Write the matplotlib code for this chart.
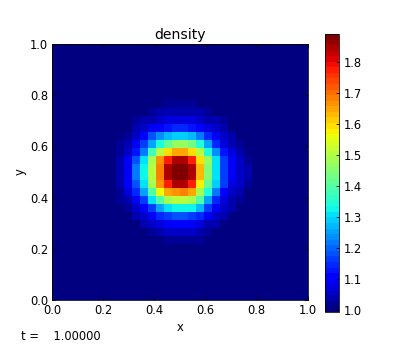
import numpy as np
import matplotlib
matplotlib.use("Agg")
import matplotlib.pyplot as plt

title = "density"
time_value = 1.0
n_cells = 32
background = 1.0
vmin = 0.994
vmax = 1.889
cbar_ticks = [1.0, 1.1, 1.2, 1.3, 1.4, 1.5, 1.6, 1.7, 1.8]

# central part of the grid, read by colour, top row first (rows 7-24, columns 7-25)
first_row = 7
first_col = 7
core = [
    [1.00, 1.00, 1.00, 1.00, 1.01, 1.01, 1.01, 1.02, 1.02, 1.02, 1.02, 1.01, 1.01, 1.01, 1.00, 1.00, 1.00, 1.00, 1.00],
    [1.00, 1.00, 1.00, 1.01, 1.01, 1.02, 1.03, 1.03, 1.04, 1.04, 1.03, 1.03, 1.02, 1.01, 1.01, 1.00, 1.00, 1.00, 1.00],
    [1.00, 1.00, 1.01, 1.02, 1.03, 1.04, 1.06, 1.07, 1.08, 1.08, 1.07, 1.06, 1.04, 1.03, 1.02, 1.01, 1.00, 1.00, 1.00],
    [1.00, 1.00, 1.01, 1.03, 1.06, 1.09, 1.11, 1.13, 1.14, 1.14, 1.13, 1.11, 1.08, 1.05, 1.03, 1.01, 1.01, 1.00, 1.00],
    [1.00, 1.01, 1.02, 1.05, 1.11, 1.18, 1.24, 1.28, 1.29, 1.29, 1.28, 1.22, 1.15, 1.09, 1.05, 1.03, 1.01, 1.00, 1.00],
    [1.00, 1.02, 1.04, 1.09, 1.16, 1.25, 1.34, 1.42, 1.47, 1.47, 1.43, 1.35, 1.26, 1.15, 1.08, 1.04, 1.02, 1.01, 1.00],
    [1.01, 1.02, 1.06, 1.13, 1.22, 1.37, 1.50, 1.60, 1.64, 1.64, 1.60, 1.50, 1.35, 1.24, 1.13, 1.07, 1.03, 1.01, 1.00],
    [1.01, 1.03, 1.09, 1.19, 1.31, 1.48, 1.66, 1.77, 1.85, 1.85, 1.77, 1.60, 1.46, 1.30, 1.17, 1.09, 1.05, 1.02, 1.01],
    [1.01, 1.03, 1.10, 1.21, 1.33, 1.50, 1.68, 1.85, 1.89, 1.89, 1.85, 1.63, 1.45, 1.30, 1.17, 1.09, 1.05, 1.03, 1.01],
    [1.01, 1.03, 1.10, 1.21, 1.33, 1.50, 1.68, 1.85, 1.89, 1.89, 1.85, 1.63, 1.45, 1.30, 1.17, 1.09, 1.05, 1.03, 1.01],
    [1.01, 1.03, 1.09, 1.19, 1.31, 1.49, 1.66, 1.78, 1.85, 1.85, 1.78, 1.58, 1.42, 1.29, 1.16, 1.08, 1.05, 1.02, 1.01],
    [1.01, 1.02, 1.07, 1.14, 1.25, 1.40, 1.55, 1.65, 1.67, 1.68, 1.65, 1.48, 1.34, 1.22, 1.11, 1.06, 1.03, 1.01, 1.00],
    [1.00, 1.02, 1.04, 1.09, 1.17, 1.30, 1.40, 1.48, 1.50, 1.50, 1.48, 1.40, 1.26, 1.15, 1.07, 1.04, 1.02, 1.01, 1.00],
    [1.00, 1.01, 1.02, 1.06, 1.11, 1.16, 1.25, 1.31, 1.33, 1.33, 1.33, 1.27, 1.17, 1.10, 1.05, 1.03, 1.01, 1.00, 1.00],
    [1.00, 1.00, 1.01, 1.03, 1.06, 1.10, 1.14, 1.17, 1.18, 1.18, 1.17, 1.14, 1.09, 1.05, 1.03, 1.01, 1.00, 1.00, 1.00],
    [1.00, 1.00, 1.00, 1.01, 1.03, 1.05, 1.08, 1.10, 1.11, 1.11, 1.10, 1.08, 1.04, 1.03, 1.01, 1.00, 1.00, 1.00, 1.00],
    [1.00, 1.00, 1.00, 1.00, 1.01, 1.02, 1.03, 1.05, 1.05, 1.05, 1.05, 1.04, 1.02, 1.01, 1.00, 1.00, 1.00, 1.00, 1.00],
    [1.00, 1.00, 1.00, 1.00, 1.00, 1.01, 1.01, 1.02, 1.02, 1.02, 1.02, 1.02, 1.01, 1.00, 1.00, 1.00, 1.00, 1.00, 1.00],
]

density = np.full((n_cells, n_cells), background)
core = np.array(core)
density[first_row:first_row + core.shape[0], first_col:first_col + core.shape[1]] = core
edges = np.linspace(0, 1, n_cells + 1)

plt.rcParams["font.size"] = 11.5
plt.rcParams["xtick.direction"] = "in"
plt.rcParams["ytick.direction"] = "in"

fig = plt.figure(figsize=(415 / 72, 346 / 72), dpi=72)
ax = fig.add_axes([52 / 415, 1 - 300 / 346, 256 / 415, 256 / 346])
cmap = plt.get_cmap("jet", 50)
mesh = ax.pcolormesh(edges, edges, density[::-1], cmap=cmap, vmin=vmin, vmax=vmax)
ax.set_xlim(0, 1)
ax.set_ylim(0, 1)
ax.set_xticks(np.arange(0, 1.01, 0.2))
ax.set_yticks(np.arange(0, 1.01, 0.2))
ax.tick_params(top=True, right=True, labelsize=11.5, length=4, pad=4, color="black")
ax.set_title(title, fontsize=14, pad=5)
ax.set_xlabel("x", fontsize=11.5, labelpad=4)
ax.set_ylabel("y", fontsize=11.5, labelpad=3)

cax = fig.add_axes([325 / 415, 1 - 312 / 346, 14 / 415, 278 / 346])
cbar = fig.colorbar(mesh, cax=cax, ticks=cbar_ticks)
cbar.ax.tick_params(labelsize=11.5, length=3, direction="in", pad=5)
cbar.ax.set_yticklabels(["%.1f" % t for t in cbar_ticks])

fig.text(21 / 415, 1 - 340 / 346, "t = %10.5f" % time_value, fontsize=11.5)

fig.savefig("out.png", dpi=72)
